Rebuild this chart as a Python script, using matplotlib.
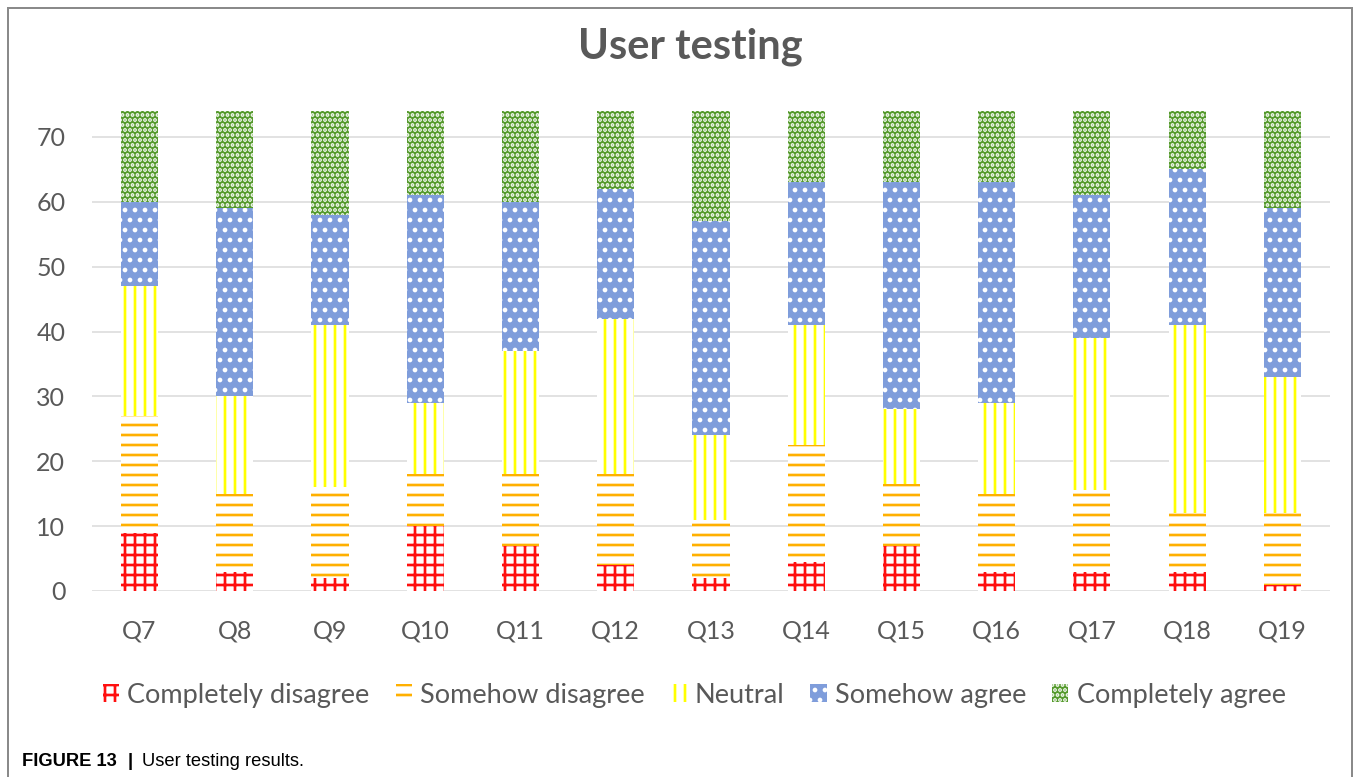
import matplotlib
matplotlib.use("Agg")
import matplotlib.pyplot as plt
from matplotlib.lines import Line2D
import numpy as np

# data: responses per question (stacked, total 74)
questions = ["Q7", "Q8", "Q9", "Q10", "Q11", "Q12", "Q13",
             "Q14", "Q15", "Q16", "Q17", "Q18", "Q19"]
completely_disagree = [9, 3, 2, 10, 7, 4, 2, 4.5, 7, 3, 3, 3, 1]
somehow_disagree = [18, 12, 14, 8, 11, 14, 9, 18, 9.5, 12, 12.5, 9, 11]
neutral = [20, 15, 25, 11, 19, 24, 13, 18.5, 11.5, 14, 23.5, 29, 21]
somehow_agree = [13, 29, 17, 32, 23, 20, 33, 22, 35, 34, 22, 24, 26]
completely_agree = [14, 15, 16, 13, 14, 12, 17, 11, 11, 11, 13, 9, 15]

series = [
    ("Completely disagree", completely_disagree, "white", "#FF1010", "++"),
    ("Somehow disagree", somehow_disagree, "white", "#FFB000", "--"),
    ("Neutral", neutral, "white", "#FFFF00", "||"),
    ("Somehow agree", somehow_agree, "#7F9DDB", "white", ".."),
    ("Completely agree", completely_agree, "#559A2C", "white", "...."),
]

txt = "#595959"
plt.rcParams["font.family"] = ["Lato", "DejaVu Sans"]
plt.rcParams["hatch.linewidth"] = 1.6

fig = plt.figure(figsize=(11.3, 6.475), dpi=120)
ax = fig.add_axes([0.0678, 0.2394, 0.913, 0.6177])

x = np.arange(len(questions))
bottom = np.zeros(len(questions))
for label, vals, fc, hc, hatch in series:
    ax.bar(x, vals, 0.39, bottom=bottom, color=fc, edgecolor=hc,
           hatch=hatch, linewidth=0, label=label, zorder=3)
    bottom += np.array(vals)

ax.set_xlim(-0.5, len(questions) - 0.5)
ax.set_ylim(0, 74)
ax.set_yticks(np.arange(0, 71, 10))
ax.set_xticks(x)
ax.set_xticklabels(questions)
ax.grid(axis="y", color="#D9D9D9", linewidth=0.9, zorder=0)
ax.set_axisbelow(True)
for s in ax.spines.values():
    s.set_visible(False)
ax.tick_params(axis="both", length=0, labelsize=15, colors=txt)
ax.tick_params(axis="y", pad=16)
ax.tick_params(axis="x", pad=17)

fig.text(0.509, 0.94, "User testing", ha="center", va="center",
         fontsize=25, fontweight="bold", color=txt)

fig.legend(loc="center", bbox_to_anchor=(0.512, 0.1055), ncol=5,
           frameon=False, fontsize=16.3, labelcolor=txt,
           handlelength=0.6, handleheight=0.65, handletextpad=0.3,
           columnspacing=0.95)

# outer frame (left, top, right)
fc_ = "#8A8A8A"
fig.add_artist(Line2D([8 / 1356, 8 / 1356], [0, 1 - 8 / 777], color=fc_, lw=1.2))
fig.add_artist(Line2D([8 / 1356, 1352 / 1356], [1 - 8 / 777, 1 - 8 / 777], color=fc_, lw=1.2))
fig.add_artist(Line2D([1352 / 1356, 1352 / 1356], [0, 1 - 8 / 777], color=fc_, lw=1.2))

# caption
cap_y = 1 - 761 / 777
fig.text(22 / 1356, cap_y, "FIGURE 13", fontsize=11, fontweight="bold",
         family="Liberation Sans", va="center", color="black")
fig.text(128 / 1356, cap_y, "|", fontsize=11, fontweight="bold",
         family="Liberation Sans", va="center", color="black")
fig.text(142 / 1356, cap_y, "User testing results.", fontsize=11,
         family="Liberation Sans", va="center", color="black")

fig.savefig("out.png", dpi=120)
